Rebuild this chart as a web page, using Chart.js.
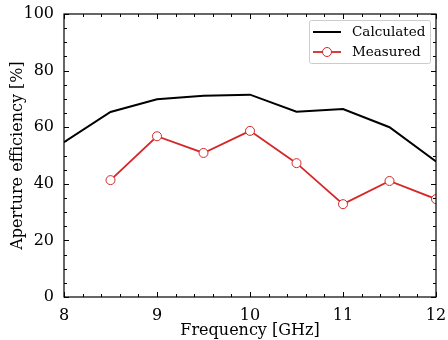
<!DOCTYPE html>
<html>
<head>
<meta charset="utf-8">
<script src="https://cdn.jsdelivr.net/npm/chart.js@4.4.1/dist/chart.umd.min.js"></script>
<style>
  html, body { margin: 0; padding: 0; background: #fff; }
  #wrap { width: 448px; height: 340px; }
</style>
</head>
<body>
<div id="wrap"><canvas id="chart"></canvas></div>
<script>
'use strict';
const frequency = [8, 8.5, 9, 9.5, 10, 10.5, 11, 11.5, 12];
const calculated = [54.7, 65.4, 69.9, 71.1, 71.5, 65.5, 66.4, 60.0, 47.9];
const measured = [null, 41.3, 56.8, 50.9, 58.7, 47.3, 32.8, 41.0, 34.6];
const seriesNames = ['Calculated', 'Measured'];

const FONT = "'DejaVu Serif', serif";
const RED = '#d62728';

const toPoints = (vals) => frequency.map((f, i) => ({ x: f, y: vals[i] }));

// frame + inward major/minor ticks, matplotlib style
const framePlugin = {
    id: 'frame',
    afterDatasetsDraw(chart) {
        const { ctx, chartArea: a, scales } = chart;
        const x = scales.x, y = scales.y;
        ctx.save();
        ctx.strokeStyle = '#000';
        ctx.lineWidth = 1;
        const tick = (px, py, dx, dy) => {
            ctx.beginPath();
            ctx.moveTo(px, py);
            ctx.lineTo(px + dx, py + dy);
            ctx.stroke();
        };
        for (let v = 8; v <= 12.001; v += 0.2) {
            const px = Math.round(x.getPixelForValue(v)) + 0.5;
            const major = Math.abs(v - Math.round(v)) < 1e-6;
            const len = major ? 5 : 3;
            tick(px, a.bottom, 0, -len);
            tick(px, a.top, 0, len);
        }
        for (let v = 0; v <= 100.001; v += 5) {
            const py = Math.round(y.getPixelForValue(v)) + 0.5;
            const len = v % 20 === 0 ? 5 : 3;
            tick(a.left, py, len, 0);
            tick(a.right, py, -len, 0);
        }
        ctx.lineWidth = 1.2;
        ctx.strokeRect(a.left, a.top, a.right - a.left, a.bottom - a.top);
        ctx.restore();
    },
};

// legend box in the upper right corner
const legendPlugin = {
    id: 'mplLegend',
    afterDraw(chart) {
        const { ctx, chartArea: a } = chart;
        const bx = 309, by = 20, bw = a.right - 6 - 309, bh = 43;
        ctx.save();
        ctx.fillStyle = 'rgba(255,255,255,0.85)';
        ctx.strokeStyle = '#cccccc';
        ctx.lineWidth = 1;
        ctx.beginPath();
        ctx.roundRect(bx + 0.5, by + 0.5, bw, bh, 2);
        ctx.fill();
        ctx.stroke();
        ctx.font = '13.5px ' + FONT;
        ctx.textBaseline = 'middle';
        chart.data.datasets.forEach((ds, i) => {
            const ly = by + 12 + i * 20;
            ctx.strokeStyle = ds.borderColor;
            ctx.lineWidth = ds.borderWidth;
            ctx.beginPath();
            ctx.moveTo(bx + 4, ly);
            ctx.lineTo(bx + 32, ly);
            ctx.stroke();
            if (ds.pointRadius > 0) {
                ctx.fillStyle = ds.pointBackgroundColor;
                ctx.lineWidth = ds.pointBorderWidth;
                ctx.beginPath();
                ctx.arc(bx + 18, ly, ds.pointRadius, 0, Math.PI * 2);
                ctx.fill();
                ctx.stroke();
            }
            ctx.fillStyle = '#000';
            ctx.fillText(ds.label, bx + 43, ly);
        });
        ctx.restore();
    },
};

new Chart(document.getElementById('chart'), {
    type: 'line',
    data: {
        datasets: [
            {
                label: seriesNames[0],
                data: toPoints(calculated),
                borderColor: '#000',
                borderWidth: 2,
                pointRadius: 0,
                tension: 0,
            },
            {
                label: seriesNames[1],
                data: toPoints(measured),
                borderColor: RED,
                borderWidth: 1.8,
                pointRadius: 4.5,
                pointBackgroundColor: '#fff',
                pointBorderColor: RED,
                pointBorderWidth: 1,
                tension: 0,
            }],
    },
    options: {
        responsive: true,
        maintainAspectRatio: false,
        animation: false,
        layout: { padding: { left: 8, right: 12, top: 14, bottom: 0 } },
        plugins: {
            legend: { display: false },
            tooltip: { enabled: false },
        },
        scales: {
            x: {
                type: 'linear',
                min: 8,
                max: 12,
                grid: { display: false },
                border: { display: false },
                ticks: {
                    stepSize: 1,
                    padding: 1,
                    color: '#000',
                    font: { family: FONT, size: 16 },
                },
                title: {
                    display: true,
                    text: 'Frequency [GHz]',
                    color: '#000',
                    padding: { top: 0, bottom: 0 },
                    font: { family: FONT, size: 16 },
                },
                afterFit(scale) { scale.height = 43; },
            },
            y: {
                min: 0,
                max: 100,
                grid: { display: false },
                border: { display: false },
                ticks: {
                    stepSize: 20,
                    padding: 2,
                    color: '#000',
                    font: { family: FONT, size: 16 },
                },
                title: {
                    display: true,
                    text: 'Aperture efficiency [%]',
                    color: '#000',
                    padding: { top: 0, bottom: 0 },
                    font: { family: FONT, size: 16 },
                },
                afterFit(scale) { scale.width = 56; },
            },
        },
    },
    plugins: [framePlugin, legendPlugin],
});
</script>
</body>
</html>
